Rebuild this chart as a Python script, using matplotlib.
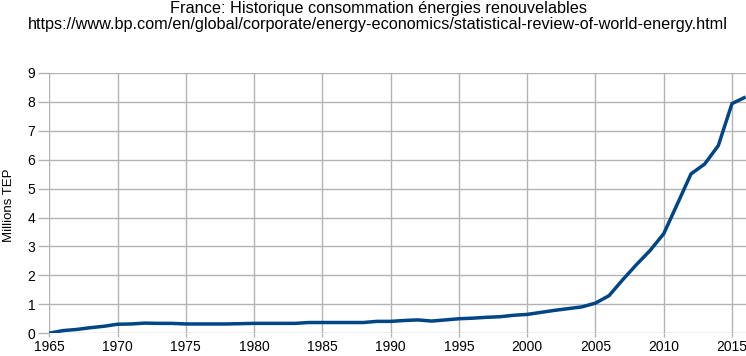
import matplotlib
matplotlib.use("Agg")
import matplotlib.pyplot as plt
import numpy as np

plt.rcParams['font.family'] = ['Liberation Sans', 'DejaVu Sans']

# Renewable energy consumption, France (millions TEP)
years = np.arange(1965, 2017)
values = [0.00, 0.09, 0.13, 0.19, 0.24, 0.31, 0.32, 0.35, 0.34, 0.34,
          0.32, 0.32, 0.32, 0.32, 0.33, 0.34, 0.34, 0.34, 0.34, 0.37,
          0.37, 0.37, 0.37, 0.37, 0.41, 0.41, 0.44, 0.46, 0.42, 0.46,
          0.50, 0.52, 0.55, 0.57, 0.62, 0.65, 0.72, 0.79, 0.85, 0.91,
          1.04, 1.30, 1.85, 2.37, 2.86, 3.44, 4.47, 5.51, 5.85, 6.49,
          7.94, 8.17]

title_lines = ["France: Historique consommation énergies renouvelables",
               "https://www.bp.com/en/global/corporate/energy-economics/statistical-review-of-world-energy.html"]

fig = plt.figure(figsize=(7.46, 3.56), dpi=100)
ax = fig.add_axes([0.066, 0.064, 0.9335, 0.731])

ax.plot(years, values, color='#004586', linewidth=2.5, solid_capstyle='butt')

ax.set_xlim(1965, 2016)
ax.set_ylim(0, 9)
ax.set_xticks(np.arange(1965, 2016, 5))
ax.set_yticks(np.arange(0, 10, 1))

ax.grid(True, color='#b3b3b3', linewidth=1)
ax.set_axisbelow(True)
for s in ax.spines.values():
    s.set_visible(False)
ax.tick_params(axis='y', length=8, color='#b3b3b3', width=1, pad=2, labelsize=10)
ax.tick_params(axis='x', length=3, color='#b3b3b3', width=1, pad=2, labelsize=10)

ax.set_ylabel("Millions TEP", fontsize=9.5)
ax.yaxis.set_label_coords(-0.049, 0.49)

fig.text(0.507, 0.996, title_lines[0], ha='center', va='top', fontsize=11.7)
fig.text(0.506, 0.952, title_lines[1], ha='center', va='top', fontsize=11.7)

fig.savefig("out.png", dpi=100)
